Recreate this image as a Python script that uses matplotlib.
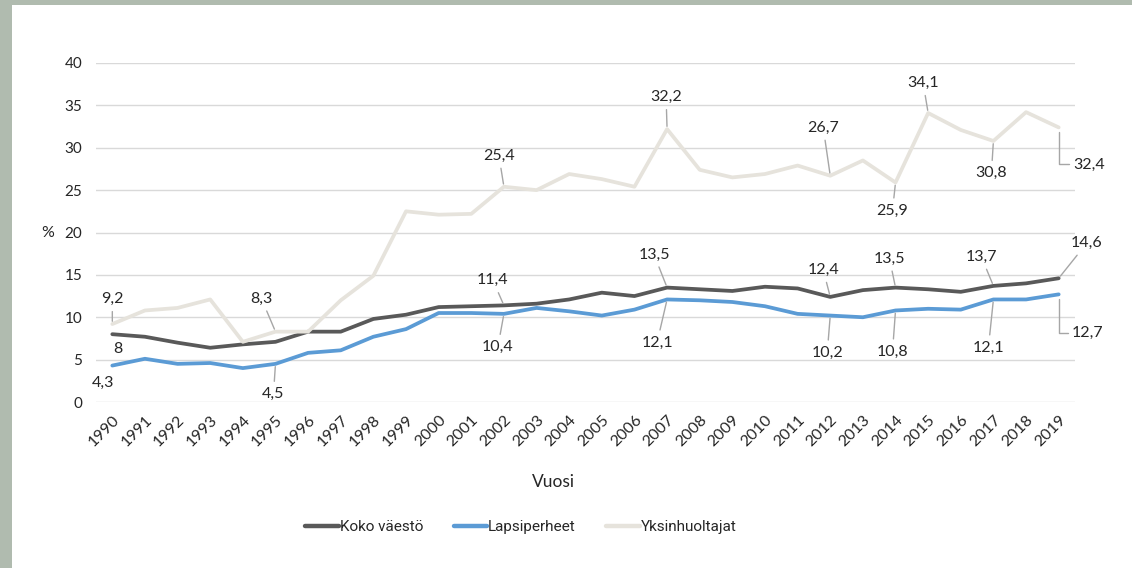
import matplotlib
matplotlib.use("Agg")
import matplotlib.pyplot as plt
from matplotlib.patches import Rectangle

years = list(range(1990, 2020))
koko = [8.0, 7.7, 7.0, 6.4, 6.8, 7.1, 8.3, 8.3, 9.8, 10.3,
        11.2, 11.3, 11.4, 11.6, 12.1, 12.9, 12.5, 13.5, 13.3, 13.1,
        13.6, 13.4, 12.4, 13.2, 13.5, 13.3, 13.0, 13.7, 14.0, 14.6]
lapsi = [4.3, 5.1, 4.5, 4.6, 4.0, 4.5, 5.8, 6.1, 7.7, 8.6,
         10.5, 10.5, 10.4, 11.1, 10.7, 10.2, 10.9, 12.1, 12.0, 11.8,
         11.3, 10.4, 10.2, 10.0, 10.8, 11.0, 10.9, 12.1, 12.1, 12.7]
yksin = [9.2, 10.8, 11.1, 12.1, 7.1, 8.3, 8.3, 12.0, 14.9, 22.5,
         22.1, 22.2, 25.4, 25.0, 26.9, 26.3, 25.4, 32.2, 27.4, 26.5,
         26.9, 27.9, 26.7, 28.5, 25.9, 34.1, 32.1, 30.8, 34.2, 32.4]
series_names = ["Koko väestö", "Lapsiperheet", "Yksinhuoltajat"]
colors = ["#595959", "#5B9BD5", "#E6E3DC"]
yticks = [0, 5, 10, 15, 20, 25, 30, 35, 40]

# labelled points: (series index, year, text offset px (dx, dy; +dy = up), leader style)
labels = [
    (2, 1990, (0, 25), "line"), (0, 1990, (6, -15), None), (1, 1990, (-9, -17), None),
    (2, 1995, (-14, 33), "line"), (1, 1995, (-2, -30), "line"),
    (2, 2002, (-5, 31), "line"), (0, 2002, (-11, 25), "line"), (1, 2002, (-6, -33), "line"),
    (2, 2007, (-1, 32), "line"), (0, 2007, (-13, 33), "line"), (1, 2007, (-10, -43), "line"),
    (2, 2012, (-7, 48), "line"), (0, 2012, (-7, 27), "line"), (1, 2012, (-3, -37), "line"),
    (2, 2014, (-3, -28), "line"), (0, 2014, (-6, 29), "line"), (1, 2014, (-3, -41), "line"),
    (2, 2015, (-5, 30), "line"), (2, 2017, (-2, -32), "line"), (0, 2017, (-12, 29), "line"),
    (1, 2017, (-5, -48), "line"),
    (0, 2019, (28, 35), "line"), (2, 2019, (30, -37), "elbow"), (1, 2019, (29, -39), "elbow"),
]

plt.rcParams['font.family'] = ['Lato', 'DejaVu Sans']
fig = plt.figure(figsize=(11.32, 5.68), dpi=100, facecolor="#B0BBAF")
fig.patches.append(Rectangle((12/1132, 0), 1, 1 - 5/568, transform=fig.transFigure,
                             facecolor="white", edgecolor="none", zorder=-10))
ax = fig.add_axes([96/1132, 1 - 402/568, (1075 - 96)/1132, (402 - 63)/568])
ax.set_facecolor("white")

x = list(range(len(years)))
data = [koko, lapsi, yksin]
for vals, c, n in zip(data, colors, series_names):
    ax.plot(x, vals, color=c, lw=2.7, label=n, solid_capstyle="round", solid_joinstyle="round", zorder=3)

ax.set_xlim(-0.5, len(years) - 0.5)
ax.set_ylim(0, 40)
ax.set_yticks(yticks)
ax.set_yticklabels([str(v) for v in yticks], fontsize=11, color="#262626")
ax.set_xticks(x)
ax.set_xticklabels([str(y) for y in years], rotation=45, ha="right", rotation_mode="anchor",
                   fontsize=11.5, color="#262626")
ax.tick_params(length=0)
ax.tick_params(axis="y", pad=10)
ax.tick_params(axis="x", pad=8)
ax.grid(axis="y", color="#D9D9D9", lw=1)
ax.set_axisbelow(True)
for s in ax.spines.values():
    s.set_visible(False)

fig.text(48/1132, 1 - 233/568, "%", fontsize=11.5, color="#262626", ha="center", va="center")
fig.text(553/1132, 1 - 482/568, "Vuosi", fontsize=12.5, color="#262626", ha="center", va="center")

for si, yr, (dx, dy), style in labels:
    i = years.index(yr)
    v = data[si][i]
    txt = f"{v:.1f}".replace(".", ",").replace(",0", "") if v == int(v) else f"{v:.1f}".replace(".", ",")
    kw = {}
    if style == "line":
        kw["arrowprops"] = dict(arrowstyle="-", color="#A6A6A6", lw=1, shrinkA=2, shrinkB=2)
    elif style == "elbow":
        kw["arrowprops"] = dict(arrowstyle="-", color="#A6A6A6", lw=1, shrinkA=3, shrinkB=3,
                                relpos=(0, 0.5), patchA=None,
                                connectionstyle="angle,angleA=0,angleB=90,rad=0")
    ax.annotate(txt, xy=(i, v), xytext=(dx, dy), textcoords="offset pixels",
                ha="center", va="center", fontsize=11.5, color="#262626", zorder=5, **kw)

leg = fig.legend(loc="center", bbox_to_anchor=(521/1132, 1 - 527/568), ncol=3, frameon=False,
                 handlelength=2.2, handletextpad=0.05, columnspacing=2.0,
                 prop={"family": ["Roboto", "DejaVu Sans"], "size": 11})
for line in leg.get_lines():
    line.set_linewidth(3.2)
for t in leg.get_texts():
    t.set_color("#262626")

fig.savefig("out.png", dpi=100, facecolor=fig.get_facecolor())
